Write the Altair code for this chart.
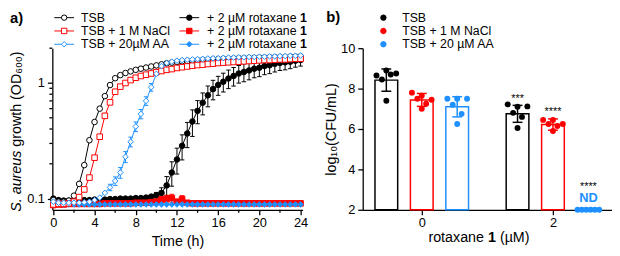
import altair as alt
import pandas as pd

FONT = "Liberation Sans"
BLACK, RED, BLUE = "#000000", "#ff0000", "#1e90ff"

# ---------------- Panel a: growth curves (OD600, log scale) ----------------
time_h = [0, 0.5, 1, 1.5, 2, 2.5, 3, 3.5, 4, 4.5, 5, 5.5, 6, 6.5, 7, 7.5, 8, 8.5, 9, 9.5,
          10, 10.5, 11, 11.5, 12, 12.5, 13, 13.5, 14, 14.5, 15, 15.5, 16, 16.5, 17, 17.5,
          18, 18.5, 19, 19.5, 20, 20.5, 21, 21.5, 22, 22.5, 23, 23.5, 24]

od_tsb = [0.097, 0.094, 0.094, 0.096, 0.106, 0.134, 0.195, 0.32, 0.46, 0.6, 0.77, 0.96, 1.1,
          1.17, 1.22, 1.26, 1.3, 1.33, 1.36, 1.39, 1.42, 1.45, 1.48, 1.5, 1.52, 1.54, 1.55,
          1.56, 1.57, 1.58, 1.59, 1.6, 1.61, 1.62, 1.62, 1.63, 1.64, 1.64, 1.65, 1.65, 1.66,
          1.66, 1.67, 1.67, 1.68, 1.68, 1.69, 1.69, 1.7]
od_tsb_sd = [0.002, 0.002, 0.002, 0.002, 0.002, 0.004, 0.008, 0.012, 0.015, 0.02, 0.02, 0.02,
             0.02, 0.02, 0.02, 0.02, 0.02, 0.02, 0.02, 0.02, 0.02, 0.02, 0.02, 0.02, 0.02, 0.02,
             0.02, 0.02, 0.02, 0.02, 0.02, 0.02, 0.02, 0.02, 0.02, 0.02, 0.02, 0.02, 0.02, 0.02,
             0.02, 0.02, 0.02, 0.02, 0.02, 0.02, 0.02, 0.02, 0.02]

od_nacl = [0.089, 0.09, 0.09, 0.091, 0.094, 0.103, 0.12, 0.152, 0.226, 0.343, 0.52, 0.68, 0.84,
           0.93, 1.0, 1.06, 1.11, 1.15, 1.18, 1.21, 1.24, 1.27, 1.3, 1.32, 1.35, 1.37, 1.39,
           1.41, 1.43, 1.44, 1.46, 1.47, 1.49, 1.5, 1.51, 1.52, 1.53, 1.54, 1.55, 1.56, 1.57,
           1.58, 1.58, 1.59, 1.6, 1.6, 1.61, 1.62, 1.62]
od_nacl_sd = [0.002, 0.002, 0.002, 0.002, 0.002, 0.002, 0.004, 0.006, 0.01, 0.015, 0.025, 0.03,
              0.03, 0.02, 0.02, 0.02, 0.02, 0.02, 0.02, 0.02, 0.02, 0.02, 0.02, 0.02, 0.02, 0.02,
              0.02, 0.02, 0.02, 0.02, 0.02, 0.02, 0.02, 0.02, 0.02, 0.02, 0.02, 0.02, 0.02, 0.02,
              0.02, 0.02, 0.02, 0.02, 0.02, 0.02, 0.02, 0.02, 0.02]

od_aa = [0.094, 0.092, 0.092, 0.092, 0.092, 0.092, 0.093, 0.094, 0.097, 0.102, 0.112, 0.125,
         0.142, 0.168, 0.23, 0.31, 0.42, 0.54, 0.7, 0.92, 1.2, 1.4, 1.49, 1.53, 1.56, 1.58, 1.59,
         1.6, 1.61, 1.62, 1.63, 1.64, 1.64, 1.65, 1.66, 1.66, 1.67, 1.67, 1.68, 1.68, 1.69,
         1.69, 1.7, 1.7, 1.71, 1.71, 1.72, 1.72, 1.73]
od_aa_sd = [0.002, 0.002, 0.002, 0.002, 0.002, 0.002, 0.002, 0.002, 0.002, 0.002, 0.004, 0.008,
            0.012, 0.018, 0.025, 0.03, 0.04, 0.05, 0.06, 0.07, 0.06, 0.04, 0.03, 0.02, 0.02, 0.02,
            0.02, 0.02, 0.02, 0.02, 0.02, 0.02, 0.02, 0.02, 0.02, 0.02, 0.02, 0.02, 0.02, 0.02,
            0.02, 0.02, 0.02, 0.02, 0.02, 0.02, 0.02, 0.02, 0.02]

od_tsb_rot = [0.1, 0.097, 0.096, 0.096, 0.096, 0.097, 0.097, 0.097, 0.098, 0.098, 0.098, 0.099,
              0.099, 0.1, 0.1, 0.1, 0.101, 0.101, 0.102, 0.104, 0.107, 0.112, 0.13, 0.168, 0.218,
              0.286, 0.366, 0.465, 0.574, 0.675, 0.782, 0.885, 0.962, 1.026, 1.094, 1.151, 1.208,
              1.245, 1.285, 1.33, 1.355, 1.4, 1.425, 1.465, 1.493, 1.51, 1.53, 1.56, 1.58]
od_tsb_rot_sd = [0.002, 0.002, 0.002, 0.002, 0.002, 0.002, 0.002, 0.002, 0.002, 0.002, 0.002,
                 0.002, 0.002, 0.002, 0.002, 0.002, 0.002, 0.002, 0.002, 0.004, 0.006, 0.012,
                 0.025, 0.04, 0.055, 0.07, 0.09, 0.12, 0.13, 0.145, 0.16, 0.17, 0.18, 0.19, 0.2,
                 0.21, 0.21, 0.22, 0.22, 0.22, 0.22, 0.22, 0.22, 0.22, 0.21, 0.21, 0.2, 0.19, 0.18]

od_nacl_rot = [0.088, 0.089, 0.089, 0.09, 0.09, 0.09, 0.09, 0.09, 0.09, 0.09, 0.091, 0.091,
               0.091, 0.091, 0.091, 0.091, 0.092, 0.092, 0.092, 0.093, 0.094, 0.098, 0.1, 0.101,
               0.094, 0.099, 0.092, 0.091, 0.091, 0.091, 0.091, 0.091, 0.091, 0.091, 0.091, 0.091,
               0.091, 0.091, 0.091, 0.091, 0.091, 0.091, 0.091, 0.091, 0.091, 0.091, 0.091, 0.091,
               0.091]
od_nacl_rot_sd = [0.001, 0.001, 0.001, 0.001, 0.001, 0.001, 0.001, 0.001, 0.001, 0.001, 0.001,
                  0.001, 0.001, 0.001, 0.001, 0.001, 0.001, 0.001, 0.001, 0.001, 0.004, 0.006,
                  0.007, 0.008, 0.004, 0.007, 0.002, 0.001, 0.001, 0.001, 0.001, 0.001, 0.001,
                  0.001, 0.001, 0.001, 0.001, 0.001, 0.001, 0.001, 0.001, 0.001, 0.001, 0.001,
                  0.001, 0.001, 0.001, 0.001, 0.001]

od_aa_rot = [0.094, 0.09, 0.089, 0.089, 0.089, 0.089, 0.089, 0.089, 0.089, 0.089, 0.089, 0.089,
             0.089, 0.089, 0.089, 0.089, 0.089, 0.089, 0.089, 0.089, 0.089, 0.089, 0.089, 0.089,
             0.089, 0.089, 0.089, 0.089, 0.089, 0.089, 0.089, 0.089, 0.089, 0.089, 0.089, 0.089,
             0.089, 0.089, 0.089, 0.089, 0.089, 0.089, 0.089, 0.089, 0.089, 0.089, 0.089, 0.089,
             0.089]
od_aa_rot_sd = [0.001, 0.001, 0.001, 0.001, 0.001, 0.001, 0.001, 0.001, 0.001, 0.001, 0.001,
                0.001, 0.001, 0.001, 0.001, 0.001, 0.001, 0.001, 0.001, 0.001, 0.001, 0.001,
                0.001, 0.001, 0.001, 0.001, 0.001, 0.001, 0.001, 0.001, 0.001, 0.001, 0.001,
                0.001, 0.001, 0.001, 0.001, 0.001, 0.001, 0.001, 0.001, 0.001, 0.001, 0.001,
                0.001, 0.001, 0.001, 0.001, 0.001]

series_names = ["TSB", "TSB + 1 M NaCl", "TSB + 20µM AA",
                "TSB + rotaxane", "NaCl + rotaxane", "AA + rotaxane"]
series_values = [od_tsb, od_nacl, od_aa, od_tsb_rot, od_nacl_rot, od_aa_rot]
series_sds = [od_tsb_sd, od_nacl_sd, od_aa_sd, od_tsb_rot_sd, od_nacl_rot_sd, od_aa_rot_sd]
series_colors = [BLACK, RED, BLUE, BLACK, RED, BLUE]
series_shapes = ["circle", "square", "diamond", "circle", "square", "diamond"]
series_fills = ["white", "white", "white", BLACK, RED, BLUE]
draw_order = [3, 4, 5, 0, 1, 2]

legend_a_col1 = ["TSB", "TSB + 1 M NaCl", "TSB + 20µM AA"]
legend_a_col2 = "+ 2 µM rotaxane"
legend_a_bold = "1"

time_ticks = [0, 4, 8, 12, 16, 20, 24]
time_minor = [2, 6, 10, 14, 18, 22]
od_ticks = [0.1, 1]
od_minor = [0.2, 0.3, 0.4, 0.5, 0.6, 0.7, 0.8, 0.9, 2]

# ---------------- Panel b: CFU bars ----------------
conditions = ["TSB", "TSB + 1 M NaCl", "TSB + 20 µM AA"]
cond_colors = [BLACK, RED, BLUE]
conc_levels = [0, 2]
cfu_mean = [8.42, 7.44, 7.1, 6.75, 6.22, 2.0]
cfu_sd = [0.55, 0.32, 0.5, 0.42, 0.28, 0.0]
cfu_points = [
    [8.65, 8.9, 8.75, 8.45, 8.7, 7.4],
    [7.8, 7.65, 7.45, 7.5, 7.25, 7.0],
    [7.5, 7.5, 7.5, 7.2, 6.75, 6.25],
    [7.22, 7.1, 7.12, 6.8, 6.6, 6.05],
    [6.45, 6.45, 6.25, 6.25, 6.15, 5.9],
    [2.0, 2.0, 2.0, 2.0, 2.0, 2.0],
]
signif = ["", "", "", "***", "****", "****"]
cfu_ticks = [2, 4, 6, 8, 10]

# ---------------- layout constants ----------------
H = 164
WA = 254
WB = 253
AX = dict(labelFont=FONT, titleFont=FONT, domainColor="black", tickColor="black",
          labelColor="black", titleColor="black", domainWidth=1.3, tickWidth=1.3,
          grid=False, titleFontWeight="normal")

ARIAL = {" ": 278, "+": 584, "1": 556, "2": 556, "µ": 576, "M": 833, "r": 333, "o": 556,
         "t": 278, "a": 556, "x": 500, "n": 556, "e": 556, "(": 333, ")": 333}


def tw(s, size):
    return sum(ARIAL[c] for c in s) * size / 1000.0


def label(text, x, y, size=12.5, weight="normal", style="normal", color="black",
          align="left", baseline="middle", angle=0):
    return alt.Chart(pd.DataFrame({"label": [text]})).mark_text(
        font=FONT, fontSize=size, fontWeight=weight, fontStyle=style, color=color,
        align=align, baseline=baseline, angle=angle
    ).encode(x=alt.value(x), y=alt.value(y), text="label:N")


def legend_marker(x, y, color, shape, fill, line=True):
    one = pd.DataFrame({"k": [0]})
    parts = []
    if line:
        parts.append(alt.Chart(one).mark_rule(color=color, strokeWidth=1).encode(
            x=alt.value(x - 10), x2=alt.value(x + 10), y=alt.value(y)))
    parts.append(alt.Chart(one).mark_point(
        shape=shape, size=30, filled=True, fill=fill, stroke=color, strokeWidth=1, opacity=1
    ).encode(x=alt.value(x), y=alt.value(y)))
    return parts


# ---------------- build panel a ----------------
rows = []
for si in draw_order:
    for t, v, s in zip(time_h, series_values[si], series_sds[si]):
        rows.append({"series": series_names[si], "t": t, "v": v, "sd": s})
df_a = pd.DataFrame(rows)

xsc_a = alt.Scale(domain=[-0.1, 24.2], nice=False, zero=False)
ysc_a = alt.Scale(type="log", domain=[0.08, 2], nice=False)
ax_xa = alt.Axis(values=time_ticks, title="Time (h)", tickSize=5, labelFontSize=13,
                 labelPadding=2, titleFontSize=14.5, titlePadding=5, format="d", **AX)
ax_ya = alt.Axis(values=od_ticks, title=None, tickSize=5, labelFontSize=13, labelPadding=3,
                 format="~g", **AX)

col_scale = alt.Scale(domain=series_names, range=series_colors)
base_a = alt.Chart(df_a)

lines = base_a.mark_line(strokeWidth=1).encode(
    x=alt.X("t:Q", scale=xsc_a, axis=ax_xa),
    y=alt.Y("v:Q", scale=ysc_a, axis=ax_ya),
    color=alt.Color("series:N", scale=col_scale, legend=None),
    order="t:Q")

err = base_a.transform_filter("datum.sd > 0.05 * datum.v").transform_calculate(
    lo="datum.v - datum.sd", hi="datum.v + datum.sd",
    tl="datum.t - 0.22", tr="datum.t + 0.22")
err_v = err.mark_rule(strokeWidth=1).encode(
    x=alt.X("t:Q", scale=xsc_a, axis=ax_xa),
    y=alt.Y("lo:Q", scale=ysc_a, axis=ax_ya), y2="hi:Q",
    color=alt.Color("series:N", scale=col_scale, legend=None))
cap_hi = err.mark_rule(strokeWidth=1).encode(
    x=alt.X("tl:Q", scale=xsc_a, axis=ax_xa), x2="tr:Q",
    y=alt.Y("hi:Q", scale=ysc_a, axis=ax_ya),
    color=alt.Color("series:N", scale=col_scale, legend=None))
cap_lo = err.mark_rule(strokeWidth=1).encode(
    x=alt.X("tl:Q", scale=xsc_a, axis=ax_xa), x2="tr:Q",
    y=alt.Y("lo:Q", scale=ysc_a, axis=ax_ya),
    color=alt.Color("series:N", scale=col_scale, legend=None))

points = base_a.mark_point(size=32, strokeWidth=1, opacity=1).encode(
    x=alt.X("t:Q", scale=xsc_a, axis=ax_xa),
    y=alt.Y("v:Q", scale=ysc_a, axis=ax_ya),
    shape=alt.Shape("series:N", scale=alt.Scale(domain=series_names, range=series_shapes),
                    legend=None),
    stroke=alt.Stroke("series:N", scale=alt.Scale(domain=series_names, range=series_colors),
                      legend=None),
    fill=alt.Fill("series:N", scale=alt.Scale(domain=series_names, range=series_fills),
                  legend=None))

minor_x = alt.Chart(pd.DataFrame({"mx": time_minor})).mark_rule(
    color="black", strokeWidth=1.3).encode(
    x=alt.X("mx:Q", scale=xsc_a, axis=ax_xa), y=alt.value(H), y2=alt.value(H + 3))
minor_y = alt.Chart(pd.DataFrame({"my": od_minor})).mark_rule(
    color="black", strokeWidth=1.3).encode(
    y=alt.Y("my:Q", scale=ysc_a, axis=ax_ya), x=alt.value(0), x2=alt.value(-3))

leg_rows = [-31, -17.5, -4]
texts_a = [label("a)", -43, -31, size=15, weight="bold")]
for i in range(3):
    texts_a += legend_marker(12, leg_rows[i], series_colors[i], series_shapes[i], series_fills[i])
    texts_a.append(label(legend_a_col1[i], 29, leg_rows[i]))
    texts_a += legend_marker(139, leg_rows[i], series_colors[i + 3], series_shapes[i + 3],
                             series_fills[i + 3])
    texts_a.append(label(legend_a_col2, 157, leg_rows[i]))
    texts_a.append(label(legend_a_bold, 157 + tw(legend_a_col2 + " ", 12.5), leg_rows[i],
                         weight="bold"))

y0 = H / 2 + 22
texts_a.append(label("S. aureus", -36, y0, size=14.5, style="italic", align="right", angle=270))
texts_a.append(label("growth (OD₆₀₀)", -36, y0 - 4, size=14.5, align="left", angle=270))

panel_a = alt.layer(lines, err_v, cap_hi, cap_lo, points, minor_x, minor_y,
                    *texts_a).properties(width=WA, height=H)

# ---------------- build panel b ----------------
BAR_STEP = 0.54
BAR_HALF = 0.173
CAP_HALF = 0.075
bar_rows, pt_rows = [], []
k = 0
for conc in conc_levels:
    for ci, cond in enumerate(conditions):
        pos = conc + (ci - 1) * BAR_STEP
        m, s = cfu_mean[k], cfu_sd[k]
        bar_rows.append({"cond": cond, "pos": pos, "x0": pos - BAR_HALF, "x1": pos + BAR_HALF,
                         "cl": pos - CAP_HALF, "cr": pos + CAP_HALF, "mean": m, "base": 2.0,
                         "lo": m - s, "hi": m + s, "sig": signif[k]})
        vals = cfu_points[k]
        n = len(vals)
        if max(vals) == min(vals):
            offs = [(-1 + 2 * j / (n - 1)) * 0.165 for j in range(n)]
        else:
            pattern = [-1, 0, 1, -0.45, 0.45, 0]
            offs = [pattern[j % 6] * 0.15 for j in range(n)]
        for v, o in zip(vals, offs):
            pt_rows.append({"cond": cond, "px": pos + o, "val": v})
        k += 1
df_bar = pd.DataFrame(bar_rows)
df_pt = pd.DataFrame(pt_rows)

xsc_b = alt.Scale(domain=[-0.9, 2.9], nice=False, zero=False)
ysc_b = alt.Scale(domain=[2, 10], nice=False, zero=False)
ax_xb = alt.Axis(values=conc_levels, title=None, tickSize=5, labelFontSize=13, labelPadding=2,
                 format="d", **AX)
ax_yb = alt.Axis(values=cfu_ticks, title="log₁₀(CFU/mL)", tickSize=5, labelFontSize=13,
                 labelPadding=3, titleFontSize=14.5, titlePadding=2, format="d", **AX)
cscale = alt.Scale(domain=conditions, range=cond_colors)

base_b = alt.Chart(df_bar)
bars = base_b.transform_filter("datum.mean > 2").mark_rect(
    fill="white", strokeWidth=1.5).encode(
    x=alt.X("x0:Q", scale=xsc_b, axis=ax_xb), x2="x1:Q",
    y=alt.Y("mean:Q", scale=ysc_b, axis=ax_yb), y2="base:Q",
    stroke=alt.Stroke("cond:N", scale=cscale, legend=None))
eb = base_b.transform_filter("datum.mean > 2")
eb_v = eb.mark_rule(strokeWidth=1.5).encode(
    x=alt.X("pos:Q", scale=xsc_b, axis=ax_xb),
    y=alt.Y("lo:Q", scale=ysc_b, axis=ax_yb), y2="hi:Q",
    color=alt.Color("cond:N", scale=cscale, legend=None))
eb_hi = eb.mark_rule(strokeWidth=1.5).encode(
    x=alt.X("cl:Q", scale=xsc_b, axis=ax_xb), x2="cr:Q",
    y=alt.Y("hi:Q", scale=ysc_b, axis=ax_yb),
    color=alt.Color("cond:N", scale=cscale, legend=None))
eb_lo = eb.mark_rule(strokeWidth=1.5).encode(
    x=alt.X("cl:Q", scale=xsc_b, axis=ax_xb), x2="cr:Q",
    y=alt.Y("lo:Q", scale=ysc_b, axis=ax_yb),
    color=alt.Color("cond:N", scale=cscale, legend=None))
dots = alt.Chart(df_pt).mark_circle(size=36, opacity=1).encode(
    x=alt.X("px:Q", scale=xsc_b, axis=ax_xb),
    y=alt.Y("val:Q", scale=ysc_b, axis=ax_yb),
    color=alt.Color("cond:N", scale=cscale, legend=None))
stars = base_b.transform_filter("datum.mean > 2 && datum.sig != ''").mark_text(
    font=FONT, fontSize=11, baseline="alphabetic", dy=-3.5).encode(
    x=alt.X("pos:Q", scale=xsc_b, axis=ax_xb),
    y=alt.Y("hi:Q", scale=ysc_b, axis=ax_yb), text="sig:N")
nd_stars = base_b.transform_filter("datum.mean <= 2").mark_text(
    font=FONT, fontSize=11, baseline="alphabetic", dy=-20.5).encode(
    x=alt.X("pos:Q", scale=xsc_b, axis=ax_xb),
    y=alt.Y("mean:Q", scale=ysc_b, axis=ax_yb), text="sig:N")
nd_text = base_b.transform_filter("datum.mean <= 2").transform_calculate(
    nd="'ND'").mark_text(font=FONT, fontSize=13, fontWeight="bold", color=BLUE,
                         baseline="alphabetic", dy=-7.5).encode(
    x=alt.X("pos:Q", scale=xsc_b, axis=ax_xb),
    y=alt.Y("mean:Q", scale=ysc_b, axis=ax_yb), text="nd:N")

texts_b = [label("b)", -37, -32, size=15, weight="bold")]
for i in range(3):
    texts_b += legend_marker(21, leg_rows[i], cond_colors[i], "circle", cond_colors[i],
                             line=False)
    texts_b.append(label(conditions[i], 40, leg_rows[i]))

t1 = "rotaxane "
t3 = " (µM)"
tot = tw(t1, 14.5) + tw("1", 14.5) + tw(t3, 14.5)
xs = 118 - tot / 2
texts_b.append(label("rotaxane", xs, H + 29, size=14.5))
texts_b.append(label("1", xs + tw(t1, 14.5), H + 29, size=14.5, weight="bold"))
texts_b.append(label("(µM)", xs + tw(t1, 14.5) + tw("1", 14.5) + tw(" ", 14.5), H + 29,
                     size=14.5))

panel_b = alt.layer(bars, eb_v, eb_hi, eb_lo, dots, stars, nd_stars, nd_text,
                    *texts_b).properties(width=WB, height=H)

chart = alt.hconcat(panel_a, panel_b, spacing=15).resolve_scale(
    color="independent", stroke="independent", fill="independent", shape="independent"
).properties(
    padding={"left": 0, "top": 0, "right": 0, "bottom": 0}
).configure(font=FONT).configure_view(stroke=None)

chart.save("out.html", embed_options={"renderer": "svg", "actions": False})
